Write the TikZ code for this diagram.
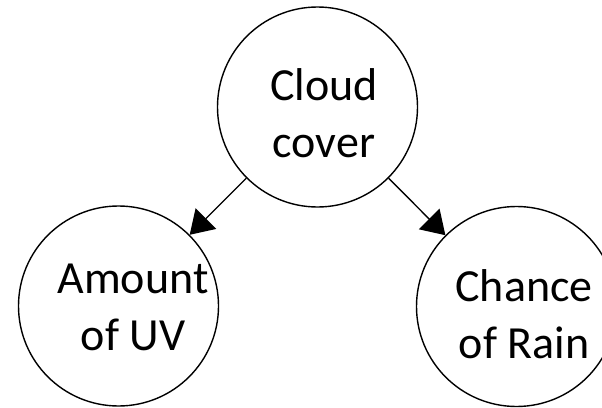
\documentclass[tikz,border=0pt]{standalone}
\usepackage{fontspec}
\setmainfont{Carlito}
\usetikzlibrary{arrows.meta}
\begin{document}
\begin{tikzpicture}[x=1pt,y=-1pt,
  var/.style={circle,draw=black,line width=1.4pt,minimum size=200pt,inner sep=0pt},
  lbl/.style={align=center,anchor=base,inner sep=0pt,font=\fontsize{46}{57}\selectfont},
  link/.style={line width=1.4pt,-{Triangle[length=23pt,width=29pt]}}]
  \useasboundingbox (0,0) rectangle (602,407);
  \clip (0,0) rectangle (602,407);
  % variables of the network
  \node[var] (cloud) at (317.5,107) {};
  \node[var] (uv)    at (118.5,306) {};
  \node[var] (rain)  at (516.5,306.5) {};
  % their names (anchored at the baseline of the last line)
  \node[lbl] (cloudtxt) at (324,157) {Cloud\\cover};
  \node[lbl] (uvtxt)    at (133,350) {Amount\\of UV};
  \node[lbl] (raintxt)  at (524,358) {Chance\\of Rain};
  % dependencies
  \draw[link] (cloud) -- (uv);
  \draw[link] (cloud) -- (rain);
\end{tikzpicture}
\end{document}
